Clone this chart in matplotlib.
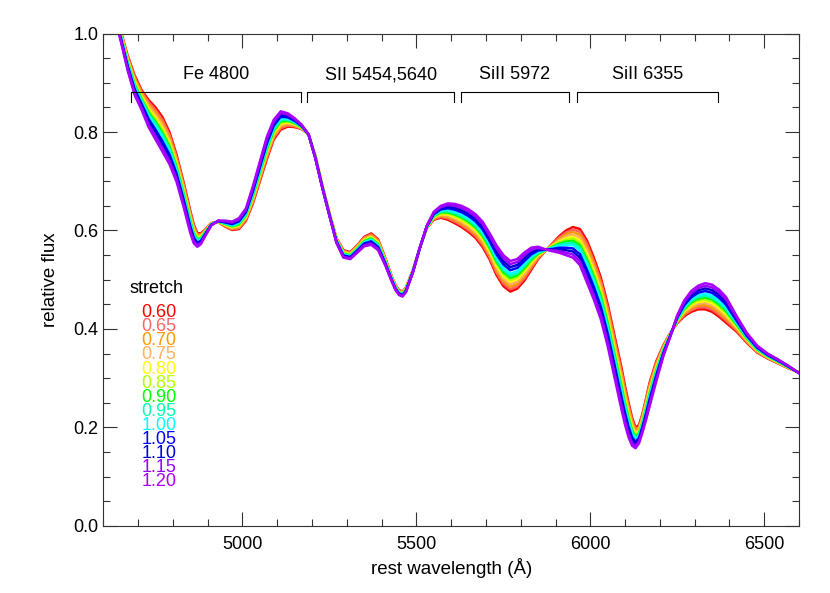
import numpy as np
import matplotlib
matplotlib.use("Agg")
import matplotlib.pyplot as plt
from matplotlib.ticker import MultipleLocator

plt.rcParams['font.family'] = ['Liberation Sans', 'DejaVu Sans']

# ---- data ----
wave = [4630, 4650, 4670, 4690, 4710, 4730, 4750, 4770, 4790, 4810,
        4830, 4850, 4860, 4870, 4880, 4890, 4910, 4930, 4950, 4970,
        4990, 5010, 5030, 5050, 5070, 5090, 5110, 5130, 5150, 5170,
        5190, 5210, 5230, 5250, 5270, 5290, 5310, 5330, 5350, 5370,
        5390, 5410, 5430, 5440, 5450, 5460, 5470, 5490, 5510, 5530,
        5550, 5570, 5590, 5610, 5630, 5650, 5670, 5690, 5710, 5730,
        5750, 5770, 5790, 5810, 5830, 5850, 5870, 5890, 5910, 5930,
        5950, 5970, 5990, 6010, 6030, 6050, 6070, 6090, 6100, 6110,
        6120, 6130, 6140, 6150, 6160, 6170, 6190, 6210, 6230, 6250,
        6270, 6290, 6310, 6330, 6350, 6370, 6390, 6420, 6450, 6480,
        6510, 6540, 6570, 6600]

# stretch 0.60 (red, lowest-stretch curve)
flux_s060 = [1.060, 1.005, 0.955, 0.915, 0.885, 0.865, 0.850, 0.830, 0.800, 0.755,
             0.700, 0.640, 0.612, 0.595, 0.594, 0.600, 0.615, 0.617, 0.608, 0.601,
             0.603, 0.620, 0.655, 0.700, 0.745, 0.785, 0.805, 0.811, 0.810, 0.806,
             0.795, 0.750, 0.690, 0.635, 0.585, 0.560, 0.556, 0.570, 0.587, 0.594,
             0.582, 0.545, 0.505, 0.489, 0.479, 0.476, 0.484, 0.520, 0.565, 0.605,
             0.622, 0.626, 0.622, 0.615, 0.607, 0.597, 0.585, 0.567, 0.542, 0.510,
             0.487, 0.476, 0.482, 0.498, 0.520, 0.542, 0.558, 0.573, 0.588, 0.600,
             0.607, 0.603, 0.580, 0.545, 0.505, 0.450, 0.385, 0.320, 0.283, 0.250,
             0.220, 0.200, 0.205, 0.228, 0.258, 0.290, 0.335, 0.367, 0.392, 0.412,
             0.426, 0.435, 0.440, 0.440, 0.435, 0.425, 0.413, 0.395, 0.372, 0.352,
             0.340, 0.330, 0.320, 0.312]

# stretch 1.20 (violet, highest-stretch curve)
flux_s120 = [1.040, 0.985, 0.925, 0.875, 0.845, 0.810, 0.785, 0.760, 0.735, 0.700,
             0.650, 0.595, 0.574, 0.567, 0.572, 0.585, 0.610, 0.620, 0.620, 0.618,
             0.625, 0.645, 0.690, 0.740, 0.790, 0.825, 0.842, 0.838, 0.828, 0.815,
             0.795, 0.745, 0.685, 0.630, 0.575, 0.545, 0.542, 0.555, 0.568, 0.571,
             0.560, 0.530, 0.495, 0.479, 0.469, 0.466, 0.475, 0.515, 0.565, 0.610,
             0.638, 0.650, 0.655, 0.654, 0.650, 0.643, 0.633, 0.618, 0.595, 0.570,
             0.550, 0.538, 0.542, 0.555, 0.565, 0.567, 0.562, 0.558, 0.555, 0.550,
             0.545, 0.530, 0.495, 0.460, 0.420, 0.365, 0.300, 0.235, 0.205, 0.180,
             0.163, 0.158, 0.168, 0.190, 0.215, 0.242, 0.295, 0.345, 0.385, 0.428,
             0.458, 0.477, 0.488, 0.493, 0.490, 0.480, 0.465, 0.427, 0.392, 0.366,
             0.350, 0.338, 0.325, 0.310]

stretch = ['0.60', '0.65', '0.70', '0.75', '0.80', '0.85', '0.90',
           '0.95', '1.00', '1.05', '1.10', '1.15', '1.20']
# where each stretch curve sits inside the red..violet band (0 = red, 1 = violet)
band_pos = [0.00, 0.08, 0.16, 0.24, 0.32, 0.38, 0.45,
            0.52, 0.59, 0.70, 0.80, 0.90, 1.00]
colors = ['#ff0000', '#ff6464', '#ff9900', '#ffb060', '#ffff00', '#b4ff00', '#00ff00',
          '#00ffb0', '#00ffff', '#0000ff', '#0000d0', '#9a00ff', '#a800ff']

line_names = ['Fe 4800', 'SII 5454,5640', 'SiII 5972', 'SiII 6355']
line_lo = [4680, 5186, 5627, 5963]
line_hi = [5167, 5608, 5940, 6367]

# ---- plot ----
fig = plt.figure(figsize=(8.3, 5.93), dpi=100)
ax = fig.add_axes([0.1245, 0.113, 0.8382, 0.8305])

w = np.array(wave)
lo = np.array(flux_s060)
hi = np.array(flux_s120)
for p, c in zip(band_pos, colors):
    ax.plot(w, lo + p * (hi - lo), color=c, lw=1.8,
            solid_joinstyle='round', solid_capstyle='round')

# line identification brackets
for name, a, b in zip(line_names, line_lo, line_hi):
    ax.plot([a, a, b, b], [0.861, 0.882, 0.882, 0.861], color='black', lw=0.8)
    ax.text((a + b) / 2, 0.916, name, ha='center', va='center', fontsize=13)

# stretch legend
ax.text(0.038, 0.483, 'stretch', transform=ax.transAxes, fontsize=13,
        ha='left', va='center')
for i, (s, c) in enumerate(zip(stretch, colors)):
    ax.text(0.0552, 0.433 - i * 0.0286, s, transform=ax.transAxes, color=c,
            fontsize=13, ha='left', va='center')

ax.set_xlim(4600, 6600)
ax.set_ylim(0.0, 1.0)
ax.xaxis.set_major_locator(MultipleLocator(500))
ax.xaxis.set_minor_locator(MultipleLocator(100))
ax.yaxis.set_major_locator(MultipleLocator(0.2))
ax.yaxis.set_minor_locator(MultipleLocator(0.05))
ax.tick_params(which='both', direction='in', top=True, right=True,
               labelsize=13, width=0.8, color='#333333')
ax.tick_params(which='major', length=10)
ax.tick_params(which='minor', length=5)
ax.tick_params(axis='x', pad=7)
ax.set_yticks([0.0, 0.2, 0.4, 0.6, 0.8, 1.0])
ax.set_yticklabels(['0.0', '0.2', '0.4', '0.6', '0.8', '1.0'])
for sp in ax.spines.values():
    sp.set_linewidth(0.8)
    sp.set_color('#333333')

ax.set_xlabel('rest wavelength (Å)', fontsize=13.5, labelpad=4)
ax.set_ylabel('relative flux', fontsize=13.5, labelpad=10)

fig.savefig('out.png', dpi=100)
